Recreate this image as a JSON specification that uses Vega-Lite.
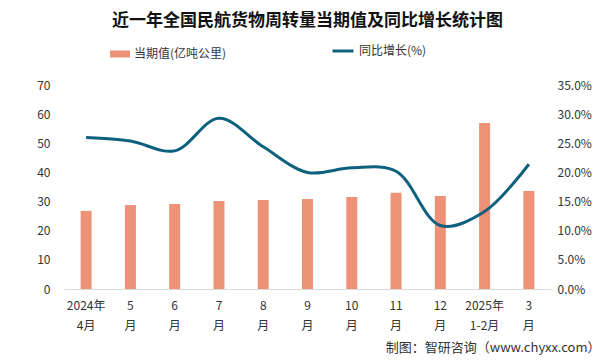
{
  "$schema": "https://vega.github.io/schema/vega-lite/v6.json",
  "autosize": "none",
  "width": 487,
  "height": 204,
  "padding": {"left": 64, "top": 85, "right": 54, "bottom": 74},
  "background": "white",
  "config": {
    "font": "Noto Sans CJK SC",
    "view": {"stroke": null}
  },
  "title": {
    "text": "近一年全国民航货物周转量当期值及同比增长统计图",
    "fontSize": 17,
    "fontWeight": "bold",
    "color": "#111111",
    "anchor": "middle",
    "offset": 9
  },
  "data": {
    "values": [
      {"month": "2024年 4月", "value": 26.8, "pct": 26.0},
      {"month": "5 月", "value": 28.8, "pct": 25.4},
      {"month": "6 月", "value": 29.2, "pct": 23.7},
      {"month": "7 月", "value": 30.2, "pct": 29.3},
      {"month": "8 月", "value": 30.5, "pct": 24.4},
      {"month": "9 月", "value": 30.9, "pct": 20.0},
      {"month": "10 月", "value": 31.6, "pct": 20.8},
      {"month": "11 月", "value": 33.0, "pct": 20.2},
      {"month": "12 月", "value": 31.9, "pct": 10.9},
      {"month": "2025年 1-2月", "value": 57.0, "pct": 13.3},
      {"month": "3 月", "value": 33.6, "pct": 21.4}
    ]
  },
  "encoding": {
    "x": {
      "field": "month",
      "type": "nominal",
      "sort": null,
      "scale": {"paddingInner": 0.75, "paddingOuter": 0.375},
      "axis": {
        "title": "制图：智研咨询（www.chyxx.com）",
        "titleFontSize": 13,
        "titleFontWeight": "normal",
        "titleColor": "#333333",
        "titleAnchor": "end",
        "titleAlign": "right",
        "titleX": 536,
        "titleY": 52,
        "labelAngle": 0,
        "labelExpr": "split(datum.label, ' ')",
        "labelFontSize": 12,
        "labelColor": "#333333",
        "labelLineHeight": 20,
        "labelPadding": 11,
        "ticks": false,
        "domainColor": "#d9d9d9",
        "domainWidth": 1
      }
    }
  },
  "layer": [
    {
      "mark": {"type": "bar", "size": 11},
      "encoding": {
        "y": {
          "field": "value",
          "type": "quantitative",
          "scale": {"domain": [0, 70]},
          "axis": {
            "title": null,
            "values": [0, 10, 20, 30, 40, 50, 60, 70],
            "grid": false,
            "domain": false,
            "ticks": false,
            "labelPadding": 14,
            "labelFontSize": 12,
            "labelColor": "#333333"
          }
        },
        "fill": {
          "datum": "当期值(亿吨公里)",
          "type": "nominal",
          "scale": {"range": ["#ee9277"]},
          "legend": {
            "title": null,
            "orient": "none",
            "legendX": 46,
            "legendY": -41,
            "symbolType": "M-1,-0.35L1,-0.35L1,0.35L-1,0.35Z",
            "symbolSize": 400,
            "symbolStrokeWidth": 0,
            "labelFontSize": 12,
            "labelColor": "#333333",
            "labelOffset": 4
          }
        }
      }
    },
    {
      "mark": {"type": "line", "interpolate": "catmull-rom", "strokeWidth": 3},
      "encoding": {
        "y": {
          "field": "pct",
          "type": "quantitative",
          "scale": {"domain": [0, 35]},
          "axis": {
            "title": null,
            "orient": "right",
            "values": [0, 5, 10, 15, 20, 25, 30, 35],
            "labelExpr": "format(datum.value, '.1f') + '%'",
            "grid": false,
            "domain": false,
            "ticks": false,
            "labelPadding": 6,
            "labelFontSize": 12,
            "labelColor": "#333333"
          }
        },
        "stroke": {
          "datum": "同比增长(%)",
          "type": "nominal",
          "scale": {"range": ["#0e607f"]},
          "legend": {
            "title": null,
            "orient": "none",
            "legendX": 267,
            "legendY": -46,
            "symbolType": "stroke",
            "symbolSize": 441,
            "symbolStrokeWidth": 3,
            "labelFontSize": 12,
            "labelColor": "#333333",
            "labelOffset": 4
          }
        }
      }
    }
  ],
  "resolve": {"scale": {"y": "independent", "fill": "independent", "stroke": "independent"}, "legend": {"fill": "independent", "stroke": "independent"}}
}
